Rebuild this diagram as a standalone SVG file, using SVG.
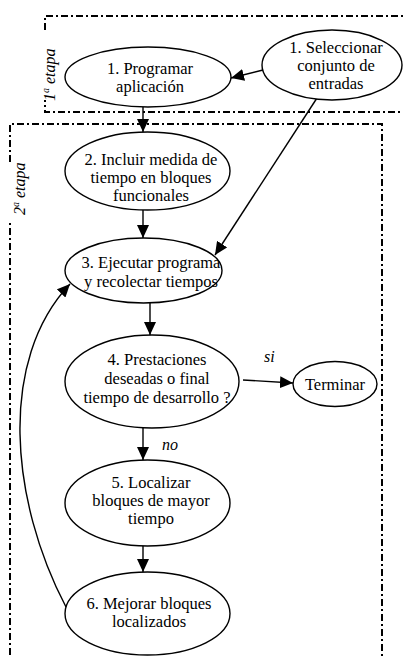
<svg xmlns="http://www.w3.org/2000/svg" width="403" height="658" viewBox="0 0 403 658">
<style>
.frame{fill:none;stroke:#000;stroke-width:2;stroke-dasharray:7 3 2 3}
.node{fill:#fff;stroke:#000;stroke-width:1.4}
.t{font-size:16.5px;fill:#000;text-anchor:middle}
.lab{font-size:16px;font-style:italic;fill:#000}
.edge{fill:none;stroke:#000;stroke-width:1.4}
</style>
<defs>
<marker id="ah" markerUnits="userSpaceOnUse" markerWidth="14" markerHeight="12" refX="13" refY="6" orient="auto">
<path d="M0,0 L13,6 L0,12 z" fill="#000"/>
</marker>
</defs>
<g font-family="'Liberation Serif', 'DejaVu Serif', 'Times New Roman', serif">
<g id="frames">
<path class="frame" d="M45,30 V16 H410 M410,112 H45 V100"/>
<path class="frame" d="M10,162 V124 H382 V670 M10,670 V220"/>
<text class="lab" transform="translate(55,101) rotate(-90)">1<tspan font-size="10" dy="-6">a</tspan><tspan dy="6"> etapa</tspan></text>
<text class="lab" transform="translate(25,215) rotate(-90)">2<tspan font-size="10" dy="-6">a</tspan><tspan dy="6"> etapa</tspan></text>
</g>
<g id="connectors">
<line class="edge" x1="143" y1="107" x2="143" y2="132" marker-end="url(#ah)"/>
<line class="edge" x1="263" y1="70" x2="231" y2="78" marker-end="url(#ah)"/>
<line class="edge" x1="317" y1="98" x2="215" y2="255" marker-end="url(#ah)"/>
<line class="edge" x1="143" y1="210" x2="143" y2="238" marker-end="url(#ah)"/>
<line class="edge" x1="150" y1="303" x2="150" y2="335" marker-end="url(#ah)"/>
<line class="edge" x1="243" y1="380" x2="293" y2="383" marker-end="url(#ah)"/>
<line class="edge" x1="143" y1="428" x2="143" y2="460" marker-end="url(#ah)"/>
<line class="edge" x1="143" y1="546" x2="143" y2="572" marker-end="url(#ah)"/>
<path class="edge" d="M66,607 C10,500 -2,360 70,284" marker-end="url(#ah)"/>
<text class="lab" x="264" y="362">si</text>
<text class="lab" x="162" y="450">no</text>
</g>
<g id="n1">
<ellipse class="node" cx="148" cy="77" rx="83" ry="30"/>
<text class="t" x="150" y="74">1. Programar</text>
<text class="t" x="150" y="92">aplicación</text>
</g>
<g id="n1b">
<ellipse class="node" cx="332" cy="65" rx="70" ry="35"/>
<text class="t" x="336" y="53">1. Seleccionar</text>
<text class="t" x="336" y="71">conjunto de</text>
<text class="t" x="336" y="89">entradas</text>
</g>
<g id="n2">
<ellipse class="node" cx="147.5" cy="171" rx="82.5" ry="39"/>
<text class="t" x="151" y="165">2. Incluir medida de</text>
<text class="t" x="151" y="183">tiempo en bloques</text>
<text class="t" x="151" y="201">funcionales</text>
</g>
<g id="n3">
<ellipse class="node" cx="143.5" cy="270.5" rx="78.5" ry="32.5"/>
<text class="t" x="151" y="268">3. Ejecutar programa</text>
<text class="t" x="151" y="287">y recolectar tiempos</text>
</g>
<g id="n4">
<ellipse class="node" cx="152" cy="381.5" rx="87" ry="46.5"/>
<text class="t" x="157" y="365">4. Prestaciones</text>
<text class="t" x="157" y="384">deseadas o final</text>
<text class="t" x="157" y="403">tiempo de desarrollo ?</text>
</g>
<g id="nT">
<ellipse class="node" cx="335" cy="384" rx="42" ry="22.5"/>
<text class="t" x="335" y="390">Terminar</text>
</g>
<g id="n5">
<ellipse class="node" cx="147.5" cy="503" rx="82.5" ry="43"/>
<text class="t" x="151" y="488">5. Localizar</text>
<text class="t" x="151" y="506">bloques de mayor</text>
<text class="t" x="151" y="524">tiempo</text>
</g>
<g id="n6">
<ellipse class="node" cx="147.5" cy="613.5" rx="82.5" ry="41.5"/>
<text class="t" x="149" y="609">6. Mejorar bloques</text>
<text class="t" x="149" y="627">localizados</text>
</g>
</g>
</svg>
